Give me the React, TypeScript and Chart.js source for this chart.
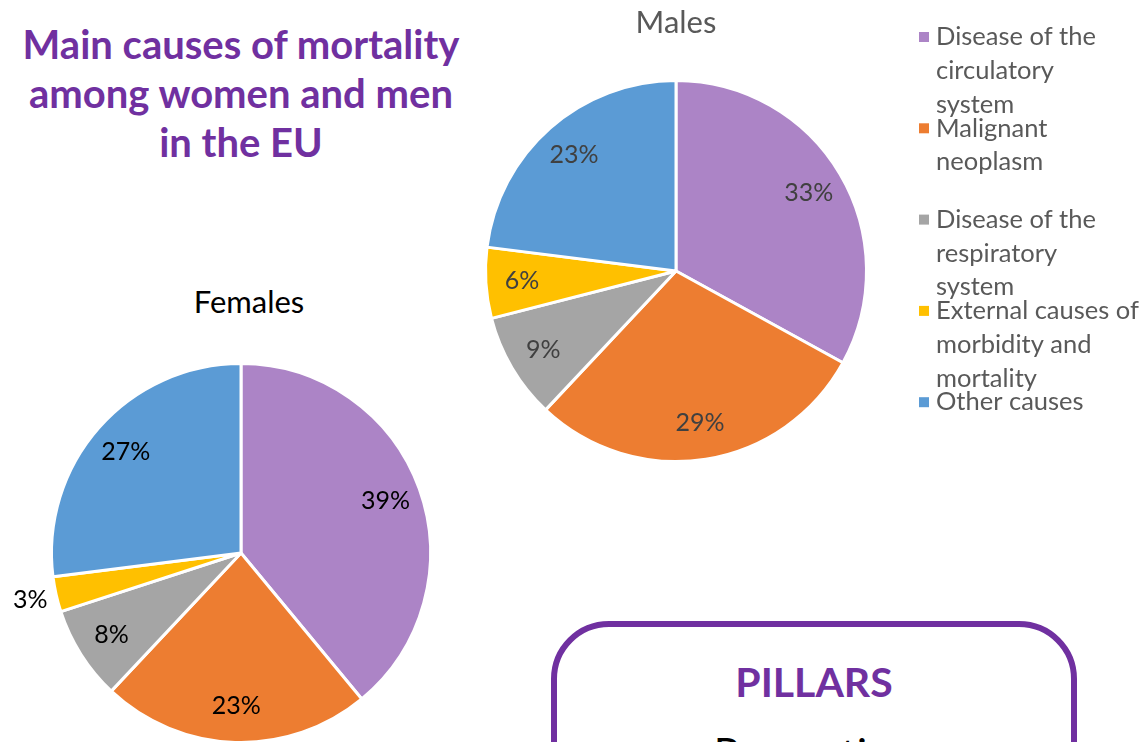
import React, { useEffect, useRef } from "react";
import { Chart, registerables } from "chart.js";

Chart.register(...registerables);

const categories: string[][] = [
  ["Disease of the", "circulatory", "system"],
  ["Malignant", "neoplasm"],
  ["Disease of the", "respiratory", "system"],
  ["External causes of", "morbidity and", "mortality"],
  ["Other causes"],
];
const femalesValues = [39, 23, 8, 3, 27];
const malesValues = [33, 29, 9, 6, 23];
const sliceColors = ["#AC84C6", "#ED7D31", "#A5A5A5", "#FFC000", "#5B9BD5"];

const FONT = "Lato, 'Open Sans', sans-serif";

const pctLabels = {
  id: "pctLabels",
  afterDatasetsDraw(chart: any, _args: any, opts: any) {
    const ctx = chart.ctx;
    const meta = chart.getDatasetMeta(0);
    const data = chart.data.datasets[0].data as number[];
    const total = data.reduce((a, b) => a + b, 0);
    ctx.save();
    ctx.font = opts.font;
    ctx.fillStyle = opts.color;
    ctx.textAlign = "center";
    ctx.textBaseline = "middle";
    meta.data.forEach((arc: any, i: number) => {
      const p = arc.getProps(["x", "y", "startAngle", "endAngle", "outerRadius"], true);
      const mid = (p.startAngle + p.endAngle) / 2;
      const share = data[i] / total;
      const f = share < 0.05 ? 1.14 : 0.81;
      ctx.fillText(
        Math.round(share * 100) + "%",
        p.x + Math.cos(mid) * p.outerRadius * f,
        p.y + Math.sin(mid) * p.outerRadius * f
      );
    });
    ctx.restore();
  },
};

const sideLegend = {
  id: "sideLegend",
  afterDraw(chart: any, _args: any, opts: any) {
    if (!opts || !opts.show) return;
    const ctx = chart.ctx;
    const labels = chart.data.labels as string[][];
    const colors = chart.data.datasets[0].backgroundColor as string[];
    ctx.save();
    ctx.font = opts.font;
    ctx.textAlign = "left";
    ctx.textBaseline = "middle";
    labels.forEach((lab, i) => {
      const y0 = opts.top + i * opts.itemGap;
      ctx.fillStyle = colors[i];
      ctx.fillRect(opts.left, y0 - 5, 10, 10);
      ctx.fillStyle = opts.color;
      lab.forEach((line, j) => {
        ctx.fillText(line, opts.left + 17, y0 + j * opts.lineHeight);
      });
    });
    ctx.restore();
  },
};

function PieChart(props: {
  values: number[];
  width: number;
  height: number;
  padding: { left: number; right: number; top: number; bottom: number };
  labelColor: string;
  legend?: any;
}) {
  const ref = useRef<HTMLCanvasElement | null>(null);
  useEffect(() => {
    if (!ref.current) return;
    const chart = new Chart(ref.current, {
      type: "pie",
      data: {
        labels: categories,
        datasets: [
          {
            data: props.values,
            backgroundColor: sliceColors,
            borderColor: "#FFFFFF",
            borderWidth: 3,
          },
        ],
      },
      options: {
        responsive: false,
        animation: false,
        rotation: 0,
        layout: { padding: props.padding },
        plugins: {
          legend: { display: false },
          tooltip: { enabled: false },
          pctLabels: { font: `25px ${FONT}`, color: props.labelColor },
          sideLegend: props.legend || { show: false },
        } as any,
      },
      plugins: [pctLabels, sideLegend],
    });
    return () => chart.destroy();
  }, []);
  return <canvas ref={ref} width={props.width} height={props.height} style={{ display: "block" }} />;
}

export default function App() {
  return (
    <div
      style={{
        position: "fixed",
        left: 0,
        top: 0,
        width: 1145,
        height: 742,
        overflow: "hidden",
        background: "#FFFFFF",
        fontFamily: FONT,
      }}
    >
      <div
        style={{
          position: "absolute",
          left: 0,
          top: 20,
          width: 482,
          textAlign: "center",
          color: "#7030A0",
          fontWeight: 700,
          fontSize: 40,
          lineHeight: "49px",
        }}
      >
        Main causes of mortality
        <br />
        among women and men
        <br />
        in the EU
      </div>

      <div style={{ position: "absolute", left: 0, top: 340 }}>
        <PieChart
          values={femalesValues}
          width={482}
          height={426}
          padding={{ left: 50, right: 50, top: 22, bottom: 22 }}
          labelColor="#000000"
        />
      </div>

      <div style={{ position: "absolute", left: 436, top: 0 }}>
        <PieChart
          values={malesValues}
          width={709}
          height={500}
          padding={{ left: 48, right: 277, top: 79, bottom: 37 }}
          labelColor="#404040"
          legend={{
            show: true,
            left: 483,
            top: 37,
            itemGap: 91.3,
            lineHeight: 33.7,
            font: `25.5px ${FONT}`,
            color: "#595959",
          }}
        />
      </div>

      <div
        style={{
          position: "absolute",
          left: 149,
          top: 282,
          width: 200,
          textAlign: "center",
          fontSize: 31,
          lineHeight: "38px",
          color: "#000000",
        }}
      >
        Females
      </div>
      <div
        style={{
          position: "absolute",
          left: 576,
          top: 2,
          width: 200,
          textAlign: "center",
          fontSize: 31,
          lineHeight: "38px",
          color: "#595959",
        }}
      >
        Males
      </div>

      <div
        style={{
          position: "absolute",
          left: 551,
          top: 621,
          width: 526,
          height: 300,
          boxSizing: "border-box",
          border: "6px solid #7030A0",
          borderRadius: 58,
        }}
      >
        <div
          style={{
            position: "absolute",
            left: 0,
            right: 0,
            top: 27,
            textAlign: "center",
            color: "#7030A0",
            fontWeight: 700,
            fontSize: 41,
            lineHeight: "56px",
          }}
        >
          PILLARS
        </div>
        <div
          style={{
            position: "absolute",
            left: 0,
            right: 0,
            top: 98,
            textAlign: "center",
            color: "#000000",
            fontSize: 42,
            lineHeight: "56px",
          }}
        >
          Prevention
        </div>
      </div>
    </div>
  );
}
